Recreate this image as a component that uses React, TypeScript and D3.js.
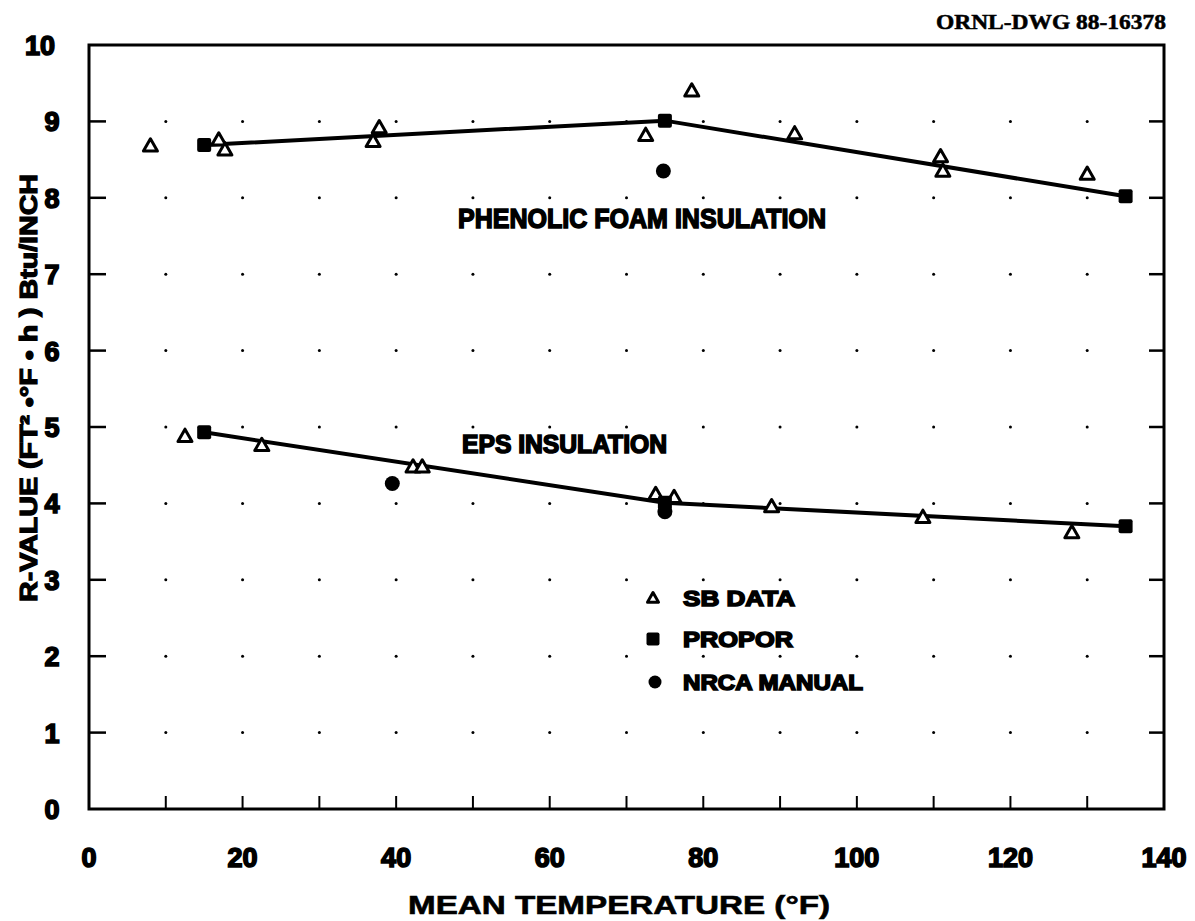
import React from "react";
import * as d3 from "d3";

const xTicks = [0, 20, 40, 60, 80, 100, 120, 140];
const yTicks = [0, 1, 2, 3, 4, 5, 6, 7, 8, 9, 10];

// Phenolic foam insulation
const phenolicSB: [number, number][] = [
  [8, 8.68], [16.9, 8.76], [17.7, 8.63], [37.8, 8.92], [37.0, 8.74],
  [72.5, 8.82], [78.5, 9.4], [91.9, 8.84], [110.9, 8.54], [111.2, 8.35], [130, 8.31],
];
const phenolicPropor: [number, number][] = [[15, 8.69], [75, 9.01], [135, 8.02]];
const phenolicNrca: [number, number][] = [[74.8, 8.35]];

// EPS insulation
const epsSB: [number, number][] = [
  [12.5, 4.88], [22.5, 4.76], [42.2, 4.48], [43.4, 4.48], [73.8, 4.12],
  [76.2, 4.08], [88.9, 3.96], [108.6, 3.82], [128, 3.62],
];
const epsPropor: [number, number][] = [[15, 4.93], [75, 4.01], [135, 3.7]];
const epsNrca: [number, number][] = [[39.5, 4.26], [75, 3.89]];

const W = 1195;
const H = 921;
const x = d3.scaleLinear().domain([0, 140]).range([89, 1164]);
const y = d3.scaleLinear().domain([0, 10]).range([809, 45]);
const line = d3.line<[number, number]>().x((d) => x(d[0])).y((d) => y(d[1]));

const FONT = "'Liberation Sans', Arial, sans-serif";

function Tri({ cx, cy, s = 7 }: { cx: number; cy: number; s?: number }) {
  const p = `M${cx},${cy - s} L${cx + s},${cy + s * 0.75} L${cx - s},${cy + s * 0.75} Z`;
  return <path d={p} fill="#fff" stroke="#000" strokeWidth={3} strokeLinejoin="round" />;
}
function Sq({ cx, cy, s = 7 }: { cx: number; cy: number; s?: number }) {
  return <rect x={cx - s} y={cy - s} width={2 * s} height={2 * s} rx={2} fill="#000" />;
}
function Dot({ cx, cy, r = 7.5 }: { cx: number; cy: number; r?: number }) {
  return <circle cx={cx} cy={cy} r={r} fill="#000" />;
}

export default function App() {
  const gridX = d3.range(10, 140, 10);
  const gridY = d3.range(1, 10, 1);
  const heavy = { fontFamily: FONT, fontWeight: 700, stroke: "#000", strokeWidth: 1.2, fill: "#000" } as const;
  const heavier = { ...heavy, strokeWidth: 1.6 } as const;
  return (
    <svg width={W} height={H} style={{ position: "absolute", left: 0, top: 0, background: "#fff" }}>
      <rect x={0} y={0} width={W} height={H} fill="#fff" />
      {/* grid dots */}
      {gridX.map((gx) =>
        gridY.map((gy) => <circle key={`${gx}-${gy}`} cx={x(gx)} cy={y(gy)} r={1.5} fill="#000" />)
      )}
      {/* lines */}
      <path d={line(phenolicPropor) || ""} fill="none" stroke="#000" strokeWidth={4} />
      <path d={line(epsPropor) || ""} fill="none" stroke="#000" strokeWidth={4} />
      {/* markers */}
      {[...phenolicSB, ...epsSB].map((d, i) => (
        <Tri key={`t${i}`} cx={x(d[0])} cy={y(d[1])} />
      ))}
      {[...phenolicPropor, ...epsPropor].map((d, i) => (
        <Sq key={`s${i}`} cx={x(d[0])} cy={y(d[1])} />
      ))}
      {[...phenolicNrca, ...epsNrca].map((d, i) => (
        <Dot key={`c${i}`} cx={x(d[0])} cy={y(d[1])} />
      ))}
      {/* frame */}
      <rect x={x(0)} y={y(10)} width={x(140) - x(0)} height={y(0) - y(10)} fill="none" stroke="#000" strokeWidth={3} />
      {d3.range(10, 140, 10).map((t) => (
        <line key={`xt${t}`} x1={x(t)} x2={x(t)} y1={y(0)} y2={y(0) - 13} stroke="#000" strokeWidth={2} />
      ))}
      {d3.range(1, 10, 1).map((t) => (
        <g key={`yt${t}`}>
          <line x1={x(0)} x2={x(0) + 17} y1={y(t)} y2={y(t)} stroke="#000" strokeWidth={2.5} />
          <line x1={x(140)} x2={x(140) - 15} y1={y(t)} y2={y(t)} stroke="#000" strokeWidth={2.5} />
        </g>
      ))}
      {/* tick labels */}
      {xTicks.map((t) => (
        <text key={`xl${t}`} x={x(t)} y={867} textAnchor="middle" fontSize={27} {...heavier}>
          {t}
        </text>
      ))}
      {yTicks.map((t) => (
        <text key={`yl${t}`} x={t === 10 ? 40 : 52} y={y(t) + 10} textAnchor="middle" fontSize={27} {...heavier}>
          {t}
        </text>
      ))}
      {/* axis titles */}
      <text x={408} y={914} fontSize={25} textLength={422} lengthAdjust="spacingAndGlyphs" {...heavy} strokeWidth={0.6}>
        MEAN TEMPERATURE (°F)
      </text>
      <text
        transform="translate(37,602) rotate(-90)"
        x={0}
        y={0}
        fontSize={24}
        textLength={428}
        lengthAdjust="spacingAndGlyphs"
        {...heavy}
      >
        R-VALUE (FT² •°F • h ) Btu/INCH
      </text>
      {/* series labels */}
      <text x={458} y={228} fontSize={28} textLength={368} lengthAdjust="spacingAndGlyphs" {...heavier}>
        PHENOLIC FOAM INSULATION
      </text>
      <text x={462} y={453} fontSize={25} textLength={205} lengthAdjust="spacingAndGlyphs" {...heavier}>
        EPS INSULATION
      </text>
      {/* legend */}
      <Tri cx={653} cy={598} s={5.5} />
      <text x={683} y={606} fontSize={22} textLength={112} lengthAdjust="spacingAndGlyphs" {...heavier}>
        SB DATA
      </text>
      <Sq cx={653} cy={639} s={6.5} />
      <text x={683} y={647} fontSize={22} textLength={110} lengthAdjust="spacingAndGlyphs" {...heavier}>
        PROPOR
      </text>
      <Dot cx={655} cy={682} r={6.5} />
      <text x={683} y={690} fontSize={22} textLength={180} lengthAdjust="spacingAndGlyphs" {...heavier}>
        NRCA MANUAL
      </text>
      {/* drawing number */}
      <text
        x={1166}
        y={29}
        textAnchor="end"
        fontSize={20}
        textLength={230}
        lengthAdjust="spacingAndGlyphs"
        fontFamily="'Liberation Serif', 'Times New Roman', serif"
        fontWeight={700}
        fill="#000"
        stroke="#000"
        strokeWidth={0.5}
      >
        ORNL-DWG 88-16378
      </text>
    </svg>
  );
}
